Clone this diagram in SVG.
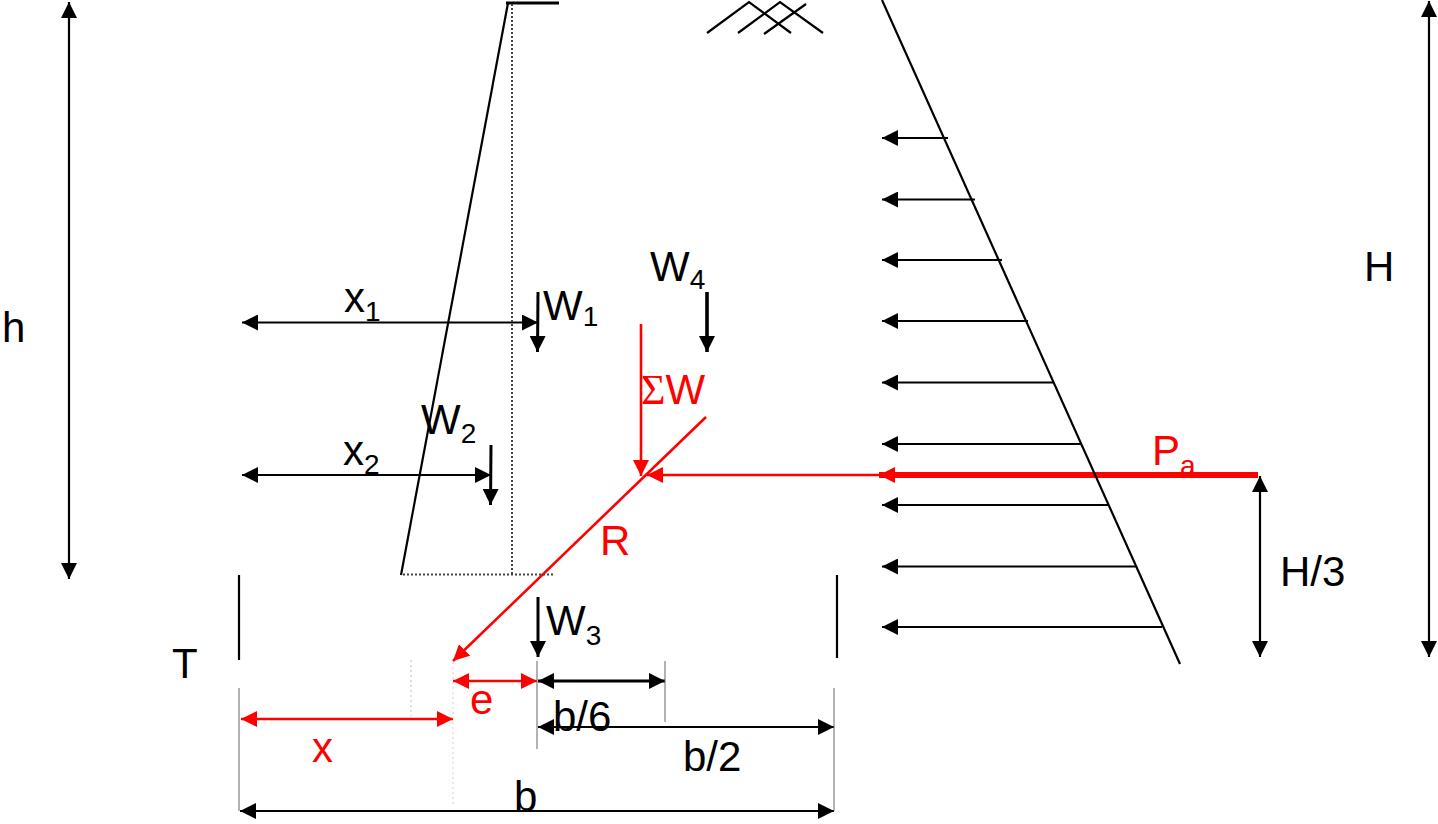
<svg xmlns="http://www.w3.org/2000/svg" width="1438" height="824" viewBox="0 0 1438 824">
<style>
text{font-family:"Liberation Sans",Arial,sans-serif;font-size:42px;fill:#000}
text.r{fill:#f00}
tspan.s{font-size:28px}
line,polyline{fill:none;stroke:#000;stroke-width:2.2}
.t{stroke-width:3}
.th{stroke-width:3.6}
.red{stroke:#f00;stroke-width:2.6}
.thick{stroke:#f00;stroke-width:6}
.dot{stroke:#444;stroke-width:2;stroke-dasharray:2 2}
.grey{stroke:#666;stroke-width:1}
.pale{stroke:#fbb;stroke-width:1;stroke-dasharray:2 3}
.pale2{stroke:#bbb;stroke-width:1;stroke-dasharray:2 3}
.a{marker-end:url(#k)}
.b{marker-start:url(#k);marker-end:url(#k)}
.ra{marker-end:url(#q)}
.rb{marker-start:url(#q);marker-end:url(#q)}
</style>
<defs>
<marker id="k" markerUnits="userSpaceOnUse" viewBox="0 0 16 16" refX="16" refY="8" markerWidth="16" markerHeight="16" orient="auto-start-reverse"><path d="M0 0L16 8L0 16z" fill="#000"/></marker>
<marker id="q" markerUnits="userSpaceOnUse" viewBox="0 0 16 16" refX="16" refY="8" markerWidth="16" markerHeight="16" orient="auto-start-reverse"><path d="M0 0L16 8L0 16z" fill="#f00"/></marker>
</defs>
<g id="connectors">
<line class="b" x1="69" y1="2" x2="69" y2="579"/>
<line class="b" x1="1429" y1="1" x2="1429" y2="657"/>
<line class="b" x1="242" y1="322.5" x2="538" y2="322.5"/>
<line class="b" x1="242" y1="475" x2="491" y2="475"/>
<line class="a t" x1="538" y1="292" x2="537.5" y2="352"/>
<line class="a t" x1="491" y1="445" x2="490.5" y2="505"/>
<line class="a th" x1="707" y1="292" x2="707" y2="352"/>
<line class="a t" x1="538" y1="597" x2="538" y2="657"/>
<line class="ra red" x1="641" y1="324" x2="641" y2="476"/>
<line class="ra red" x1="882" y1="475" x2="647" y2="475"/>
<line class="ra red" x1="706" y1="417" x2="453" y2="661"/>
<line class="ra thick" x1="1258" y1="475" x2="879" y2="475"/>
<line class="b" x1="1260" y1="476" x2="1260" y2="657"/>
<line class="a" x1="948" y1="138" x2="882" y2="138"/>
<line class="a" x1="975" y1="199.500" x2="882" y2="199.500"/>
<line class="a" x1="1002" y1="260" x2="882" y2="260"/>
<line class="a" x1="1028" y1="321" x2="882" y2="321"/>
<line class="a" x1="1054" y1="382.500" x2="882" y2="382.500"/>
<line class="a" x1="1081" y1="444" x2="882" y2="444"/>
<line class="a" x1="1108" y1="505" x2="882" y2="505"/>
<line class="a" x1="1136" y1="566.500" x2="882" y2="566.500"/>
<line class="a" x1="1162" y1="627" x2="882" y2="627"/>
<line class="rb red" x1="453" y1="681" x2="537" y2="681"/>
<line class="b t" x1="538" y1="681" x2="665" y2="681"/>
<line class="b" x1="538" y1="727" x2="834" y2="727"/>
<line class="rb red" x1="241" y1="719" x2="453" y2="719"/>
<line class="b" x1="240" y1="811" x2="834" y2="811"/>
</g>
<g id="wall">
<line x1="508" y1="3" x2="401" y2="575"/>
<line class="t" x1="506" y1="3" x2="559" y2="3"/>
<line class="dot" x1="512" y1="4" x2="512" y2="575"/>
<line class="dot" x1="403" y1="574.500" x2="555" y2="574.500"/>
</g>
<g id="backfill-hatch">
<polyline points="707,33 749,2 791,33"/>
<polyline points="738,33 780,2 823,33"/>
<polyline points="764,34 806,4"/>
</g>
<g id="pressure-line"><line x1="882" y1="0" x2="1180" y2="664"/></g>
<g id="guides">
<line x1="239" y1="575" x2="239" y2="660"/>
<line x1="837" y1="575" x2="837" y2="658"/>
<line class="grey" x1="239" y1="688" x2="239" y2="811"/>
<line class="grey" x1="834" y1="688" x2="834" y2="811"/>
<line class="grey" x1="537" y1="661" x2="537" y2="749"/>
<line class="grey" x1="665" y1="661" x2="665" y2="722"/>
<line class="pale" x1="453" y1="662" x2="453" y2="806"/>
<line class="pale2" x1="411" y1="660" x2="411" y2="716"/>
</g>
<g id="labels">
<text x="2" y="342">h</text>
<text x="1364" y="281">H</text>
<text x="344" y="312">x<tspan class="s" dy="9">1</tspan></text>
<text x="343" y="465">x<tspan class="s" dy="9">2</tspan></text>
<text x="543" y="320">W<tspan class="s" dy="6">1</tspan></text>
<text x="421" y="434">W<tspan class="s" dy="9">2</tspan></text>
<text x="546" y="635">W<tspan class="s" dy="10">3</tspan></text>
<text x="650" y="281">W<tspan class="s" dy="8">4</tspan></text>
<text class="r" x="641" y="404"><tspan font-family="Liberation Serif" font-size="42">Σ</tspan>W</text>
<text class="r" x="1152" y="465">P<tspan class="s" dy="10">a</tspan></text>
<text class="r" x="600" y="555">R</text>
<text class="r" x="470" y="714">e</text>
<text class="r" x="312" y="762">x</text>
<text x="1280" y="586">H/3</text>
<text x="172" y="678">T</text>
<text x="553" y="731">b/6</text>
<text x="683" y="771">b/2</text>
<text x="514" y="811">b</text>
</g>
</svg>
